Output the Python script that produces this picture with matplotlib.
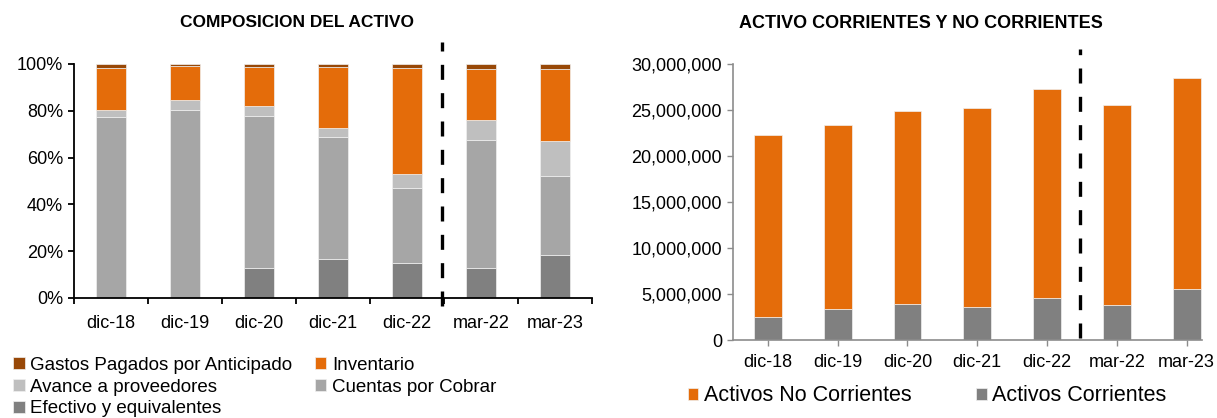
import numpy as np
import matplotlib.pyplot as plt
from matplotlib.ticker import FuncFormatter, FixedLocator

plt.rcParams['font.family'] = ['Liberation Sans', 'DejaVu Sans']

periodos = ['dic-18', 'dic-19', 'dic-20', 'dic-21', 'dic-22', 'mar-22', 'mar-23']

# Composicion del activo (%)
efectivo = [0.0, 0.0, 12.9, 16.8, 14.8, 12.7, 18.2]
cuentas = [77.5, 80.5, 64.9, 52.0, 32.4, 54.7, 34.1]
avance = [2.7, 4.1, 4.3, 3.7, 5.9, 8.8, 14.6]
inventario = [18.2, 14.5, 16.8, 26.2, 45.1, 21.7, 31.1]
gastos = [1.6, 0.9, 1.1, 1.3, 1.8, 2.1, 2.0]

# Activos corrientes y no corrientes
corrientes = [2470000, 3340000, 3880000, 3550000, 4600000, 3840000, 5550000]
total_activo = [22300000, 23400000, 24900000, 25250000, 27350000, 25570000, 28500000]
no_corrientes = [t - c for t, c in zip(total_activo, corrientes)]

naranja = '#E46C0A'
marron = '#984807'
gris_claro = '#BFBFBF'
gris_medio = '#A6A6A6'
gris_osc = '#808080'

fig = plt.figure(figsize=(12.17, 4.18), dpi=100)
x = np.arange(len(periodos))
ancho = 0.4

# ---- Grafico izquierdo ----
ax1 = fig.add_axes([0.0608, 0.2871, 0.4256, 0.5598])
capas = [('Efectivo y equivalentes', efectivo, gris_osc),
         ('Cuentas por Cobrar', cuentas, gris_medio),
         ('Avance a proveedores', avance, gris_claro),
         ('Inventario', inventario, naranja),
         ('Gastos Pagados por Anticipado', gastos, marron)]
base = np.zeros(len(periodos))
barras = {}
for nombre, vals, col in capas:
    vals = np.array(vals)
    barras[nombre] = ax1.bar(x, vals, ancho, bottom=base, color=col,
                             edgecolor='#f0f0f0', linewidth=0.5, label=nombre)
    base += vals

ax1.set_xlim(-0.5, 6.5)
ax1.set_ylim(0, 100)
ax1.set_yticks(np.arange(0, 101, 20))
ax1.yaxis.set_major_formatter(FuncFormatter(lambda v, p: '{:.0f}%'.format(v)))
ax1.set_xticks(x)
ax1.set_xticklabels(periodos)
ax1.xaxis.set_minor_locator(FixedLocator(np.arange(-0.5, 7, 1)))
ax1.tick_params(axis='x', which='major', length=0, labelsize=13, pad=12)
ax1.tick_params(axis='x', which='minor', length=4, width=1.3, direction='out')
ax1.tick_params(axis='y', length=4, width=1.3, labelsize=13, pad=4)
for s in ['top', 'right']:
    ax1.spines[s].set_visible(False)
for s in ['left', 'bottom']:
    ax1.spines[s].set_linewidth(1.3)
    ax1.spines[s].set_color('black')
ax1.plot([4.47, 4.47], [-0.034, 1.094], transform=ax1.get_xaxis_transform(),
         color='black', lw=2.4, dashes=(4.5, 4), clip_on=False)

fig.text(0.244, 0.947, 'COMPOSICION DEL ACTIVO', ha='center', va='center',
         fontsize=12.5, fontweight='bold')

orden = ['Gastos Pagados por Anticipado', 'Avance a proveedores', 'Efectivo y equivalentes',
         'Inventario', 'Cuentas por Cobrar']
fig.legend([barras[n] for n in orden], orden, loc='upper left',
           bbox_to_anchor=(0.011, 0.146), ncol=2, frameon=False, fontsize=13.5,
           handlelength=0.6, handleheight=0.6, handletextpad=0.3,
           columnspacing=1.2, labelspacing=0.25, borderaxespad=0, borderpad=0)

# ---- Grafico derecho ----
ax2 = fig.add_axes([0.6023, 0.1866, 0.3854, 0.6596])
b_cor = ax2.bar(x, corrientes, ancho, color=gris_osc, edgecolor='#f0f0f0', linewidth=0.5)
b_nc = ax2.bar(x, no_corrientes, ancho, bottom=corrientes, color=naranja,
               edgecolor='#f0f0f0', linewidth=0.5)
ax2.set_xlim(-0.5, 6.22)
ax2.set_ylim(0, 30000000)
ax2.set_yticks(np.arange(0, 30000001, 5000000))
ax2.yaxis.set_major_formatter(FuncFormatter(lambda v, p: '{:,.0f}'.format(v)))
ax2.set_xticks(x)
ax2.set_xticklabels(periodos)
ax2.tick_params(axis='x', length=4, width=1, color='#8c8c8c', labelsize=13, pad=6)
ax2.tick_params(axis='y', length=4, width=1, color='#8c8c8c', labelsize=13, pad=4)
for s in ['top', 'right']:
    ax2.spines[s].set_visible(False)
for s in ['left', 'bottom']:
    ax2.spines[s].set_color('#8c8c8c')
    ax2.spines[s].set_linewidth(1.2)
ax2.plot([4.47, 4.47], [0.007, 1.055], transform=ax2.get_xaxis_transform(),
         color='black', lw=2.4, dashes=(4.5, 4), clip_on=False)

fig.text(0.757, 0.943, 'ACTIVO CORRIENTES Y NO CORRIENTES', ha='center', va='center',
         fontsize=13, fontweight='bold')

fig.legend([b_nc, b_cor], ['Activos No Corrientes', 'Activos Corrientes'], loc='upper left',
           bbox_to_anchor=(0.565, 0.078), ncol=2, frameon=False, fontsize=15.5,
           handlelength=0.5, handleheight=0.5, handletextpad=0.25,
           columnspacing=3.0, borderaxespad=0, borderpad=0)

fig.savefig('out.png', dpi=100)
